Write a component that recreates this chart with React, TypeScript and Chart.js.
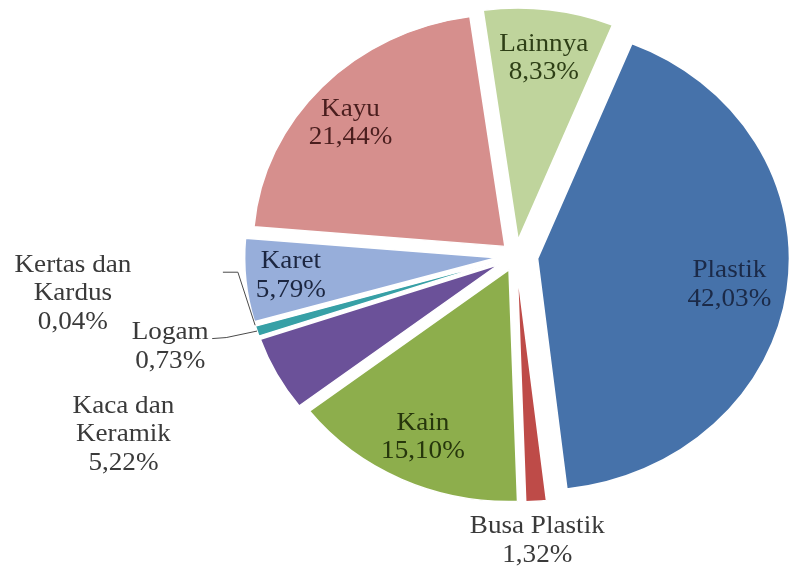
import React, { useEffect, useRef } from "react";
import { Chart, registerables } from "chart.js";

Chart.register(...registerables);

// ---- data ----
const categories = [
  "Plastik",
  "Busa Plastik",
  "Kain",
  "Kaca dan Keramik",
  "Logam",
  "Kertas dan Kardus",
  "Karet",
  "Kayu",
  "Lainnya",
];
const shares = [42.03, 1.32, 15.1, 5.22, 0.73, 0.04, 5.79, 21.44, 8.33];

// ---- styles ----
const sliceColors = [
  "#4672AA",
  "#BE4B48",
  "#8DAE4C",
  "#6B5199",
  "#37A0A6",
  "#F29A4E",
  "#97AEDA",
  "#D68F8D",
  "#BFD49C",
];
const labelColors = [
  "#1B2A48",
  "#3A3A3A",
  "#26360C",
  "#3A3A3A",
  "#3A3A3A",
  "#3A3A3A",
  "#1C2640",
  "#4A1E1E",
  "#2E3F16",
];
// explode distance of each slice (px)
const explode = [20, 14, 15, 18, 18, 18, 18, 14, 16];
// label placement relative to each slice: radius fraction and angle shift (deg)
const labelRadius = [0.77, 1.17, 0.8, 1.66, 1.35, 1.69, 0.82, 0.81, 0.79];
const labelAngleShift = [0.85, 0.4, 0.06, 2.0, 1.6, 11.3, 0.1, -2.6, 0.4];
// leader lines (offsets from label centre): [startDx, startDy, bendDx, bendDy]
const leaders: Record<number, number[]> = {
  4: [42, -8.5, 56, -9.5],
  5: [150, -21.5, 165, -21.5],
};

const STRETCH_X = 1.086;
const RADIUS = 232;
const FONT_FAMILY = '"Liberation Serif", "DejaVu Serif", serif';
const FONT = "25px " + FONT_FAMILY;
const LINE_H = 28.5;

function labelLines(i: number): string[] {
  const name = categories[i];
  const pct = shares[i].toFixed(2).replace(".", ",") + "%";
  const idx = name.indexOf(" dan ");
  if (idx >= 0) {
    return [name.slice(0, idx + 4), name.slice(idx + 5), pct];
  }
  return [name, pct];
}

const explodePlugin = {
  id: "explodeStretch",
  afterUpdate(chart: any) {
    const meta = chart.getDatasetMeta(0);
    meta.data.forEach((arc: any, i: number) => {
      const mid = (arc.startAngle + arc.endAngle) / 2;
      const d = explode[i] || 0;
      arc.x += Math.cos(mid) * d;
      arc.y += Math.sin(mid) * d;
    });
  },
  beforeDatasetsDraw(chart: any) {
    const { ctx, chartArea } = chart;
    const cx = (chartArea.left + chartArea.right) / 2;
    const cy = (chartArea.top + chartArea.bottom) / 2;
    ctx.save();
    ctx.translate(cx, cy);
    ctx.scale(STRETCH_X, 1);
    ctx.translate(-cx, -cy);
  },
  afterDatasetsDraw(chart: any) {
    const { ctx, chartArea } = chart;
    ctx.restore();
    const cx = (chartArea.left + chartArea.right) / 2;
    const meta = chart.getDatasetMeta(0);
    meta.data.forEach((arc: any, i: number) => {
      const mid = (arc.startAngle + arc.endAngle) / 2;
      const ang = mid + (labelAngleShift[i] * Math.PI) / 180;
      const r = arc.outerRadius * labelRadius[i];
      const ax = cx + (arc.x - cx) * STRETCH_X;
      const ay = arc.y;
      const lx = ax + Math.cos(ang) * r * STRETCH_X;
      const ly = ay + Math.sin(ang) * r;
      const lines = labelLines(i);

      const ld = leaders[i];
      if (ld) {
        const ex = ax + Math.cos(mid) * arc.outerRadius * STRETCH_X;
        const ey = ay + Math.sin(mid) * arc.outerRadius;
        ctx.save();
        ctx.strokeStyle = "#4A4A4A";
        ctx.lineWidth = 1;
        ctx.beginPath();
        ctx.moveTo(lx + ld[0], ly + ld[1]);
        ctx.lineTo(lx + ld[2], ly + ld[3]);
        ctx.lineTo(ex, ey);
        ctx.stroke();
        ctx.restore();
      }

      ctx.save();
      ctx.translate(lx, ly);
      ctx.scale(STRETCH_X, 1);
      ctx.font = FONT;
      ctx.fillStyle = labelColors[i];
      ctx.textAlign = "center";
      ctx.textBaseline = "middle";
      const top = -((lines.length - 1) * LINE_H) / 2;
      lines.forEach((t, k) => ctx.fillText(t, 0, top + k * LINE_H));
      ctx.restore();
    });
  },
};

export default function App() {
  const canvasRef = useRef<HTMLCanvasElement | null>(null);

  useEffect(() => {
    if (!canvasRef.current) return;
    const chart = new Chart(canvasRef.current, {
      type: "pie",
      data: {
        labels: categories,
        datasets: [
          {
            data: shares,
            backgroundColor: sliceColors,
            borderColor: "#FFFFFF",
            borderWidth: 1.5,
          },
        ],
      },
      options: {
        animation: false,
        responsive: true,
        maintainAspectRatio: false,
        rotation: 22,
        radius: RADIUS,
        layout: { padding: { left: 241, right: 0, top: 0, bottom: 56 } },
        plugins: {
          legend: { display: false },
          tooltip: { enabled: false },
          title: { display: false },
        },
      },
      plugins: [explodePlugin],
    });
    let alive = true;
    const fonts: any = (document as any).fonts;
    if (fonts && fonts.load) {
      fonts
        .load(FONT, "Kaca dan Keramik 0,04%")
        .then(() => fonts.ready)
        .then(() => {
          if (alive) chart.update();
        })
        .catch(() => {});
    }
    return () => {
      alive = false;
      chart.destroy();
    };
  }, []);

  return (
    <div
      style={{
        position: "fixed",
        left: 0,
        top: 0,
        width: 791,
        height: 568,
        background: "#FFFFFF",
      }}
    >
      <span
        style={{
          position: "absolute",
          left: -9999,
          top: 0,
          fontFamily: FONT_FAMILY,
          fontSize: 25,
        }}
      >
        Kaca dan Keramik
      </span>
      <canvas ref={canvasRef} />
    </div>
  );
}
